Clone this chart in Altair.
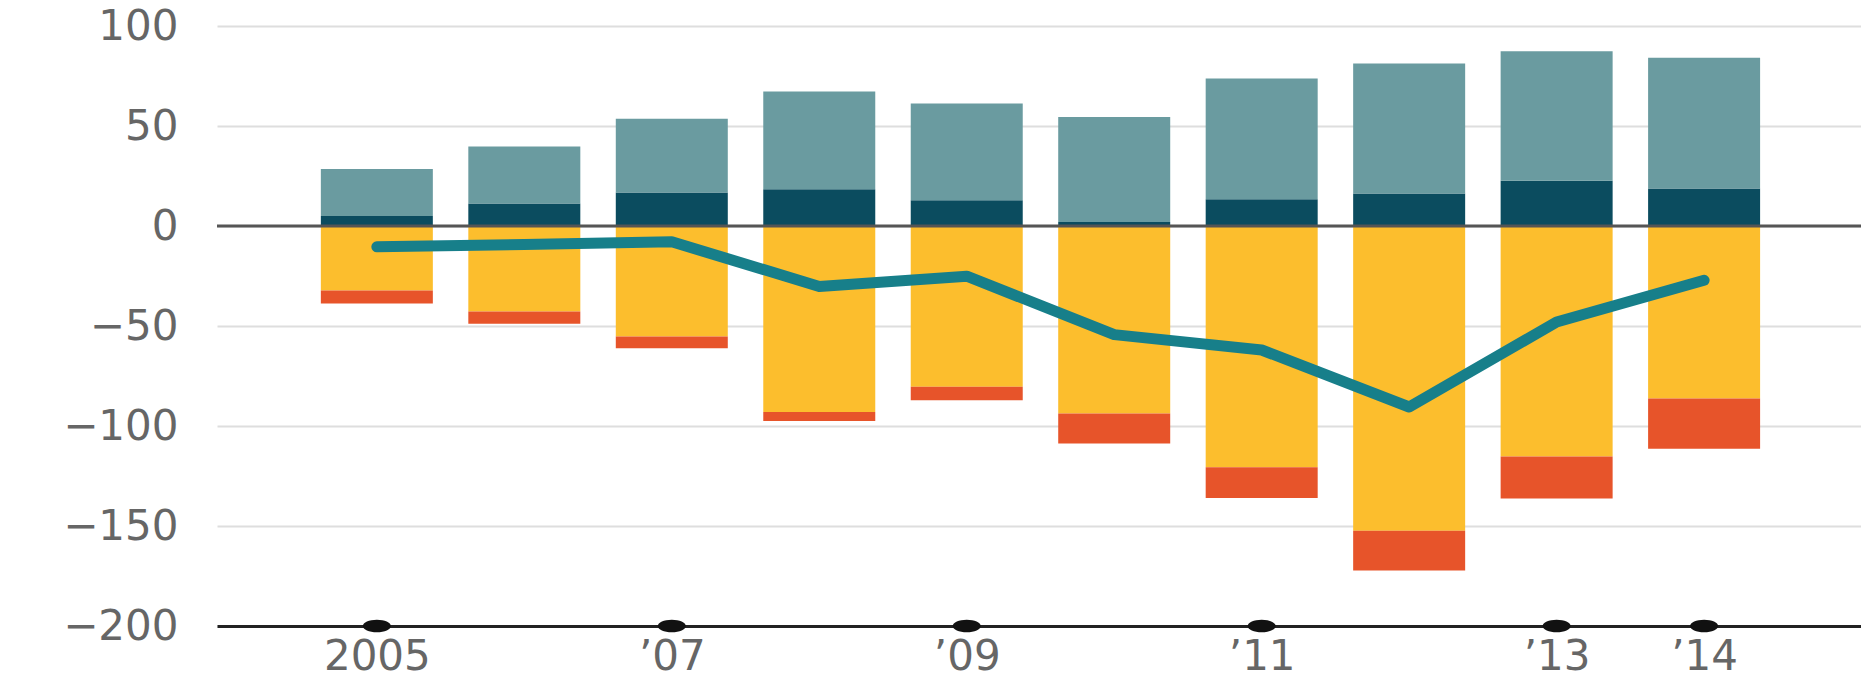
import altair as alt
import pandas as pd

years = [2005, 2006, 2007, 2008, 2009, 2010, 2011, 2012, 2013, 2014]
dark_teal = [5.0, 11.3, 16.8, 18.4, 12.9, 2.0, 13.4, 16.3, 22.6, 18.8]
light_teal_top = [28.5, 39.7, 53.6, 67.3, 61.2, 54.5, 73.7, 81.3, 87.4, 84.1]
yellow_bottom = [-32.2, -42.7, -55.3, -93.0, -80.4, -93.8, -120.6, -152.4, -115.2, -86.2]
orange_bottom = [-38.8, -48.9, -61.1, -97.5, -87.1, -108.8, -136.0, -172.2, -136.2, -111.4]
net_line = [-10.4, -9.3, -7.9, -30.2, -25.1, -54.3, -62.0, -90.5, -48.0, -27.1]
tick_years = [2005, 2007, 2009, 2011, 2013, 2014]
tick_labels = ["2005", "\u201907", "\u201909", "\u201911", "\u201913", "\u201914"]
y_ticks = [-200, -150, -100, -50, 0, 50, 100]

segments = ["dark", "light", "yellow", "orange"]
colors = ["#0b4c5f", "#6a9ba0", "#fcbe2d", "#e7542a"]

rows = []
for i, yr in enumerate(years):
    rows.append({"year": yr, "seg": "dark", "lo": 0, "hi": dark_teal[i]})
    rows.append({"year": yr, "seg": "light", "lo": dark_teal[i], "hi": light_teal_top[i]})
    rows.append({"year": yr, "seg": "yellow", "lo": yellow_bottom[i], "hi": 0})
    rows.append({"year": yr, "seg": "orange", "lo": orange_bottom[i], "hi": yellow_bottom[i]})
bars_df = pd.DataFrame(rows)
line_df = pd.DataFrame({"year": years, "net": net_line})
dots_df = pd.DataFrame({"year": tick_years, "v": [-200] * len(tick_years)})
zero_df = pd.DataFrame({"v": [0]})

label_map = "{" + ",".join(f"'{y}':'{l}'" for y, l in zip(tick_years, tick_labels)) + "}"

FONT = "DejaVu Sans"
FS = 42
xscale = alt.Scale(domain=[2003.95, 2015.03], nice=False, zero=False)
yscale = alt.Scale(domain=[-200, 100], nice=False)

bars = alt.Chart(bars_df).mark_bar(size=112).encode(
    x=alt.X("year:Q", scale=xscale, axis=alt.Axis(
        values=tick_years, labelExpr=label_map + "[datum.value]",
        grid=False, ticks=False, tickSize=0, domain=True, domainColor="#222222",
        domainWidth=3, labelFont=FONT, labelFontSize=FS, labelColor="#666666",
        labelBaseline="alphabetic", labelPadding=43, title=None,
        labelFlush=False, labelOverlap=False)),
    y=alt.Y("lo:Q", scale=yscale, axis=alt.Axis(
        values=y_ticks, grid=True, gridColor="#dedede", gridWidth=2,
        ticks=False, tickSize=0, domain=False, labelFont=FONT, labelFontSize=FS,
        labelColor="#666666", labelPadding=39, title=None, labelFlush=False,
        labelOverlap=False)),
    y2="hi:Q",
    color=alt.Color("seg:N", scale=alt.Scale(domain=segments, range=colors), legend=None),
)

zero = alt.Chart(zero_df).mark_rule(color="#555555", strokeWidth=3).encode(
    y=alt.Y("v:Q", scale=yscale)
)

line = alt.Chart(line_df).mark_line(
    color="#177f8a", strokeWidth=11, strokeCap="round", strokeJoin="round"
).encode(
    x=alt.X("year:Q", scale=xscale),
    y=alt.Y("net:Q", scale=yscale),
)

dots = alt.Chart(dots_df).mark_point(
    filled=True, color="#111111", opacity=1, size=784,
    shape="M-1,0A1,0.45,0,1,0,1,0A1,0.45,0,1,0,-1,0Z",
).encode(
    x=alt.X("year:Q", scale=xscale),
    y=alt.Y("v:Q", scale=yscale),
)

chart = alt.layer(bars, zero, line, dots).properties(
    width=1644, height=600,
    autosize=alt.AutoSizeParams(type="none"),
    padding={"left": 217, "top": 26, "right": 0, "bottom": 55},
    background="white",
).configure_view(stroke=None, strokeWidth=0)

chart.save("out.html", embed_options={"renderer": "svg", "actions": False})
